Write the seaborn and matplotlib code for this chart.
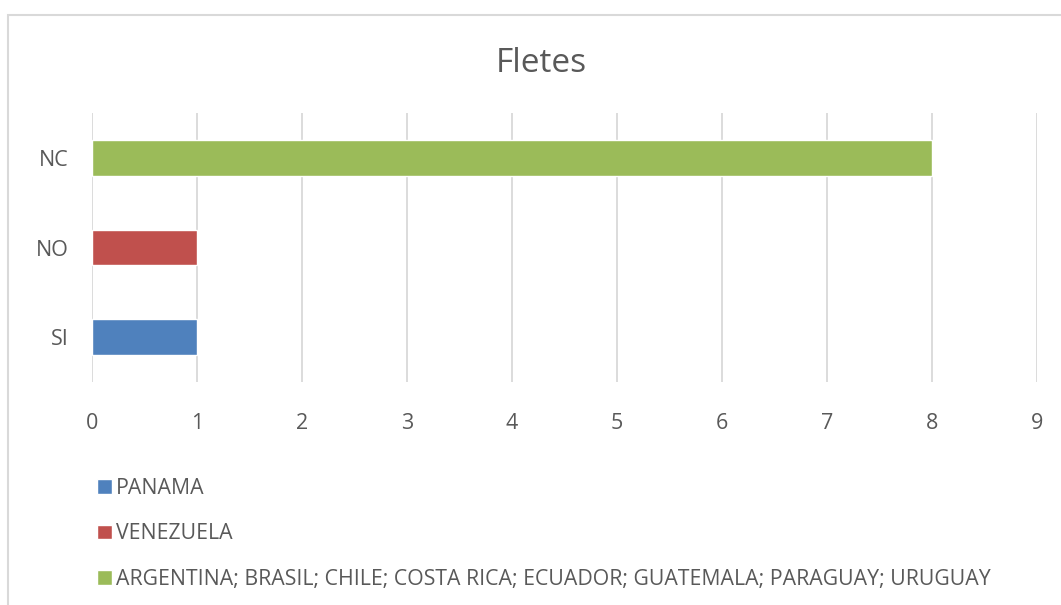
import matplotlib.pyplot as plt
import matplotlib.patches as mpatches
import seaborn as sns
import pandas as pd

# Data
CATEGORIES = ['SI', 'NO', 'NC']
VALUES = [1, 1, 8]
SERIES = ['PANAMA', 'VENEZUELA',
          'ARGENTINA; BRASIL; CHILE; COSTA RICA; ECUADOR; GUATEMALA; PARAGUAY; URUGUAY']
COLORS = ['#4F81BD', '#C0504D', '#9BBB59']
X_TICKS = list(range(0, 10))
TITLE = 'Fletes'

# Config
TEXT_COLOR = '#595959'
GRID_COLOR = '#D9D9D9'
DPI = 100

sns.set_theme(style='white')
plt.rcParams['font.family'] = ['Open Sans', 'DejaVu Sans']

df = pd.DataFrame({'cat': CATEGORIES, 'val': VALUES, 'serie': SERIES})

fig = plt.figure(figsize=(1061 / DPI, 605 / DPI), dpi=DPI)
ax = fig.add_axes([0.0867, 0.3686, 0.8907, 0.4446])

sns.barplot(data=df, x='val', y='cat', hue='serie', order=CATEGORIES[::-1],
            hue_order=SERIES, palette=COLORS, dodge=False, width=0.4,
            orient='h', ax=ax, saturation=1, legend=True)

ax.set_xlim(0, 9)
ax.set_ylim(2.5, -0.5)
ax.set_xticks(X_TICKS)
ax.set_xlabel('')
ax.set_ylabel('')
for s in ax.spines.values():
    s.set_visible(False)
ax.set_axisbelow(True)
ax.grid(axis='x', color=GRID_COLOR, linewidth=1.3)
ax.grid(axis='y', visible=False)
ax.tick_params(axis='x', length=0, pad=22, labelsize=15.5, labelcolor=TEXT_COLOR)
ax.tick_params(axis='y', length=0, pad=17, labelsize=15.5, labelcolor=TEXT_COLOR)

fig.text(0.51, 0.895, TITLE, ha='center', va='center', fontsize=24, color=TEXT_COLOR)

handles, labels = ax.get_legend_handles_labels()
ax.legend_.remove()
fig.legend(handles, labels, loc='upper left', bbox_to_anchor=(0.0915, 0.210),
           frameon=False, fontsize=15.3, labelcolor=TEXT_COLOR, labelspacing=1.15,
           handlelength=0.7, handleheight=0.7, handletextpad=0.2, borderpad=0,
           borderaxespad=0)

# chart border
fig.patches.append(mpatches.Rectangle((8 / 1061, -0.1), 1.2, 0.1 + (605 - 15) / 605,
                                      transform=fig.transFigure, fill=False,
                                      edgecolor=GRID_COLOR, linewidth=1.5))

plt.savefig('out.png', dpi=DPI)
